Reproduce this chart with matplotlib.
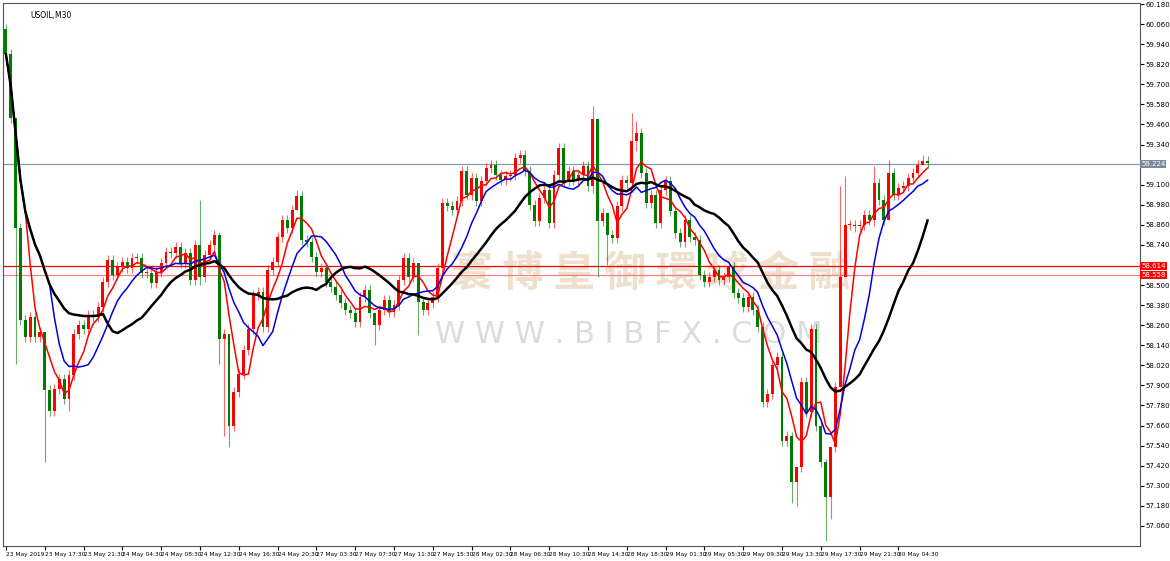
import numpy as np
import pandas as pd
import matplotlib.pyplot as plt

# closes of USOIL M30 bars
closes = [59.88, 59.50, 58.84, 58.29, 58.19, 58.31, 58.19, 58.22, 57.87, 57.75,
          57.88, 57.94, 57.82, 57.96, 58.21, 58.26, 58.24, 58.32, 58.31, 58.37,
          58.52, 58.65, 58.56, 58.61, 58.64, 58.60, 58.66, 58.66, 58.57, 58.57,
          58.51, 58.58, 58.63, 58.70, 58.69, 58.73, 58.63, 58.69, 58.53, 58.74,
          58.55, 58.68, 58.74, 58.80, 58.18, 58.21, 57.66, 57.86, 57.97, 58.11,
          58.24, 58.44, 58.46, 58.25, 58.59, 58.64, 58.79, 58.89, 58.84, 58.95,
          59.03, 58.77, 58.76, 58.67, 58.58, 58.60, 58.52, 58.49, 58.44, 58.39,
          58.35, 58.33, 58.28, 58.43, 58.47, 58.33, 58.26, 58.35, 58.41, 58.34,
          58.38, 58.53, 58.66, 58.55, 58.63, 58.40, 58.35, 58.39, 58.43, 58.60,
          58.99, 58.97, 58.95, 59.00, 59.18, 59.04, 59.14, 59.00, 59.12, 59.20,
          59.22, 59.16, 59.13, 59.15, 59.16, 59.26, 59.28, 59.18, 58.98, 58.88,
          59.02, 59.07, 58.87, 59.16, 59.32, 59.12, 59.18, 59.13, 59.16, 59.21,
          59.09, 59.49, 58.88, 58.93, 58.80, 58.78, 58.97, 59.13, 59.11, 59.36,
          59.41, 59.17, 58.99, 59.04, 58.87, 59.07, 59.12, 58.94, 58.81, 58.76,
          58.89, 58.79, 58.77, 58.56, 58.52, 58.55, 58.59, 58.53, 58.55, 58.61,
          58.45, 58.42, 58.37, 58.43, 58.35, 58.25, 57.80, 57.85, 58.02, 58.07,
          57.57, 57.60, 57.32, 57.41, 57.92, 57.74, 58.24, 57.66, 57.44, 57.23,
          57.53, 57.89, 58.55, 58.86, 58.86, 58.85, 58.86, 58.92, 58.89, 59.11,
          59.01, 58.89, 59.17, 59.04, 59.08, 59.09, 59.14, 59.17, 59.22, 59.24,
          59.23]
first_open = 60.03

# long visible wicks: bar index -> (high, low)
wicks = {2: (59.50, 58.03), 8: (57.90, 57.44), 13: (57.99, 57.75), 40: (59.01, 58.50),
         44: (58.82, 58.03), 45: (58.24, 57.60), 46: (58.21, 57.53), 60: (59.07, 58.95),
         76: (58.33, 58.14), 85: (58.63, 58.20), 121: (59.57, 59.05), 122: (59.49, 58.55),
         124: (58.93, 58.62), 129: (59.53, 59.11), 130: (59.48, 59.30), 162: (57.62, 57.20),
         163: (57.41, 57.18), 169: (57.46, 56.97), 170: (57.53, 57.10), 172: (59.09, 57.89),
         173: (59.15, 58.55), 179: (59.21, 58.85), 182: (59.25, 58.89), 189: (59.28, 59.22)}

xlabels = ["23 May 2019", "23 May 17:30", "23 May 21:30", "24 May 04:30", "24 May 08:30",
           "24 May 12:30", "24 May 16:30", "24 May 20:30", "27 May 03:30", "27 May 07:30",
           "27 May 11:30", "27 May 15:30", "28 May 02:30", "28 May 06:30", "28 May 10:30",
           "28 May 14:30", "28 May 18:30", "29 May 01:30", "29 May 05:30", "29 May 09:30",
           "29 May 13:30", "29 May 17:30", "29 May 21:30", "30 May 04:30"]
yticks = [60.180, 60.060, 59.940, 59.820, 59.700, 59.580, 59.460, 59.340, 59.100,
          58.980, 58.860, 58.740, 58.500, 58.380, 58.260, 58.140, 58.020, 57.900,
          57.780, 57.660, 57.540, 57.420, 57.300, 57.180, 57.060]
bid = 59.224
levels = [58.614, 58.558]

df = pd.DataFrame({"close": closes})
df["open"] = df["close"].shift(1).fillna(first_open)
n = len(df)
x = np.arange(n)

fig = plt.figure(figsize=(11.7, 5.61), dpi=100)
ax = fig.add_axes([3 / 1170, 15 / 561, 1137 / 1170, 543 / 561])
ax.set_xlim(-0.6, 233.8)
ax.set_ylim(56.94, 60.186)

# watermark
ax.text(0.57, 0.5, "寰 博 皇 御 環 球 金 融", transform=ax.transAxes, fontsize=30,
        color="#ecd9c2", alpha=0.8, ha="center", va="center",
        family=["Noto Sans CJK TC", "DejaVu Sans"], fontweight="bold", zorder=0)
ax.text(0.55, 0.39, "W W W . B I B F X . C O M", transform=ax.transAxes, fontsize=22,
        color="#dcdcdc", ha="center", va="center", zorder=0)

for i in range(n):
    o, c = df["open"][i], df["close"][i]
    col = "#ff0000" if c >= o else "#007a00"
    hi, lo = wicks.get(i, (max(o, c) + 0.03, min(o, c) - 0.03))
    ax.vlines(i, lo, hi, color=col, lw=0.8, alpha=0.6, zorder=2)
    ax.bar(i, max(abs(c - o), 0.006), bottom=min(o, c), width=0.6, color=col, zorder=3)

ax.plot(x, df["close"].rolling(5, min_periods=1).mean(), color="red", lw=1.1, zorder=4)
ax.plot(x, df["close"].rolling(10, min_periods=1).mean(), color="#0000dd", lw=1.1, zorder=4)
ax.plot(x, df["close"].rolling(21, min_periods=1).mean(), color="black", lw=1.8, zorder=4)

ax.axhline(bid, color="#8a9aa8", lw=0.9, zorder=1)
ax.axhline(levels[0], color="red", lw=0.9, zorder=1)
ax.axhline(levels[1], color="#ff8080", lw=0.9, zorder=1)

ax.yaxis.tick_right()
ax.set_yticks(yticks)
ax.set_yticklabels([f"{v:.3f}" for v in yticks], fontsize=5)
ax.tick_params(axis="y", length=3, pad=1)
for v, fc in [(bid, "#7a8a9a"), (levels[0], "red"), (levels[1], "red")]:
    ax.text(1.001, v, f"{v:.3f}", transform=ax.get_yaxis_transform(), fontsize=5,
            color="white", va="center", ha="left",
            bbox=dict(boxstyle="square,pad=0.15", fc=fc, ec="none"))

ax.set_xticks(np.arange(len(xlabels)) * 8)
ax.set_xticklabels(xlabels, fontsize=4.2, ha="left")
ax.tick_params(axis="x", length=3, pad=1)

ax.text(0.024, 0.985, "USOIL,M30", transform=ax.transAxes, fontsize=5.5, va="top")
for s in ax.spines.values():
    s.set_color("#555555")

fig.savefig("out.png", dpi=100)
